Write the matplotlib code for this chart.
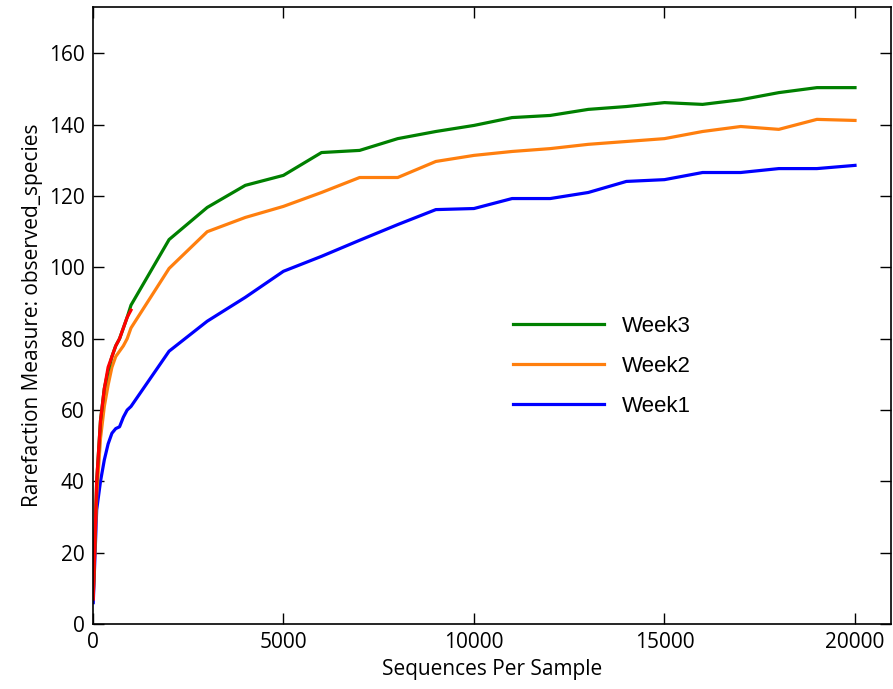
import matplotlib
matplotlib.use("Agg")
import matplotlib.pyplot as plt

# sequences per sample (rarefaction depths)
depths_low = [10, 100, 200, 300, 400, 500, 600, 700, 800, 900, 1000]
depths_high = [2000, 3000, 4000, 5000, 6000, 7000, 8000, 9000, 10000,
               11000, 12000, 13000, 14000, 15000, 16000, 17000, 18000, 19000, 20000]
depths = depths_low + depths_high

week1 = [6, 32, 40, 46, 50.5, 53.5, 54.8, 55.3, 58, 60, 61,
         76.5, 84.9, 91.6, 98.9, 103.1, 107.6, 112, 116.2, 116.5,
         119.3, 119.3, 121, 124.1, 124.6, 126.6, 126.6, 127.7, 127.7, 128.6]
week2 = [8, 36, 52, 61, 67, 72, 75, 76.5, 78, 80, 83,
         99.7, 110, 114, 117.1, 121, 125.2, 125.2, 129.7, 131.4,
         132.5, 133.3, 134.5, 135.3, 136.1, 138.1, 139.5, 138.7, 141.5, 141.2]
week3 = [8, 40, 57, 66, 71, 75, 78, 80, 83, 86, 89.4,
         107.8, 116.8, 123, 125.8, 132.2, 132.8, 136.1, 138.1, 139.8,
         142, 142.6, 144.3, 145.1, 146.2, 145.7, 147, 149, 150.4, 150.4]
# extra sample that stops at 1000 sequences
short = [7, 40, 57, 66, 72, 75, 78, 80, 83, 86, 88]

plt.rcParams['font.family'] = ['Open Sans', 'DejaVu Sans']

fig = plt.figure(figsize=(8.93, 6.89), dpi=100)
ax = fig.add_axes([0.104, 0.0943, 0.894, 0.8955])

l1, = ax.plot(depths, week1, color='#0000ff', lw=2.3)
l2, = ax.plot(depths, week2, color='#ff7f0e', lw=2.3)
l3, = ax.plot(depths, week3, color='#008000', lw=2.3)
ax.plot(depths_low, short, color='#ff0000', lw=2.3)

ax.set_xlim(0, 20950)
ax.set_ylim(0, 173)
ax.set_xticks([0, 5000, 10000, 15000, 20000])
ax.set_yticks(range(0, 161, 20))
ax.tick_params(direction='in', length=8, width=1, top=True, right=True,
               labelsize=15, pad=6)
for s in ax.spines.values():
    s.set_linewidth(1.2)

ax.set_xlabel('Sequences Per Sample', fontsize=15)
ax.set_ylabel('Rarefaction Measure: observed_species', fontsize=15)

ax.legend([l3, l2, l1], ['Week3', 'Week2', 'Week1'], loc='center left',
          bbox_to_anchor=(0.512, 0.418), frameon=False, borderpad=0,
          handlelength=4.1, labelspacing=0.85, handletextpad=0.8,
          prop={'family': 'Liberation Sans', 'size': 16})

fig.savefig('out.png', dpi=100)
